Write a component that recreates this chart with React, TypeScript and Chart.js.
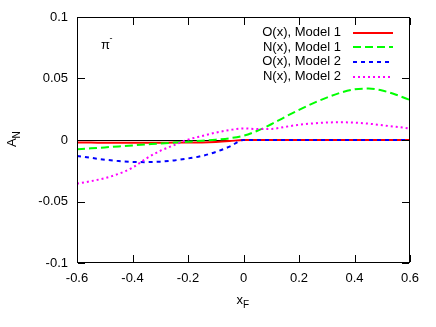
import React, { useEffect, useRef, useState } from "react";
import { Chart, registerables } from "chart.js";

Chart.register(...registerables);

const xValues = [
  -0.6, -0.55, -0.5, -0.45, -0.4, -0.35, -0.3, -0.25, -0.2, -0.15, -0.1, -0.05,
  0, 0.05, 0.1, 0.15, 0.2, 0.25, 0.3, 0.35, 0.4, 0.45, 0.5, 0.55, 0.6,
];

const oModel1 = [
  -0.0021, -0.0021, -0.0022, -0.0022, -0.0022, -0.0022, -0.0022, -0.0021, -0.0021, -0.002, -0.0016, -0.0009,
  0, 0, 0, 0, 0, 0, 0, 0, 0, 0, 0, 0, 0,
];

const nModel1 = [
  -0.0075, -0.0068, -0.006, -0.0052, -0.0044, -0.0036, -0.0028, -0.0021, -0.0014, -0.0006, 0.0003, 0.0014,
  0.0035, 0.0075, 0.0128, 0.0188, 0.0245, 0.0298, 0.0345, 0.0385, 0.0412, 0.0418, 0.0402, 0.0368, 0.0325,
];

const oModel2 = [
  -0.013, -0.0145, -0.016, -0.0171, -0.0178, -0.018, -0.0176, -0.0166, -0.015, -0.013, -0.0097, -0.0054,
  0, 0, 0, 0, 0, 0, 0, 0, 0, 0, 0, 0, 0,
];

const nModel2 = [
  -0.0355, -0.0335, -0.031, -0.0275, -0.0225, -0.015, -0.0088, -0.0042, 0.0003, 0.0032, 0.006, 0.0081,
  0.0094, 0.0089, 0.009, 0.0107, 0.0124, 0.0135, 0.0142, 0.0144, 0.0141, 0.0133, 0.012, 0.0107, 0.0094,
];

const seriesLabels = ["O(x), Model 1", "N(x), Model 1", "O(x), Model 2", "N(x), Model 2"];

const xTicks = [-0.6, -0.4, -0.2, 0, 0.2, 0.4, 0.6];
const xTickLabels = ["-0.6", "-0.4", "-0.2", "0", "0.2", "0.4", "0.6"];
const yTicks = [-0.1, -0.05, 0, 0.05, 0.1];
const yTickLabels = ["-0.1", "-0.05", "0", "0.05", "0.1"];

const FONT = "'Liberation Sans', Arial, sans-serif";

// plot box (gnuplot frame) in page pixels
const PAD_TOP = 17;
const PAD_RIGHT = 26;
const Y_AXIS_W = 77;
const X_AXIS_H = 64;
const W = 436;
const H = 327;

type Geom = { l: number; t: number; r: number; b: number; xs: number[]; ys: number[] };

const framePlugin = {
  id: "gnuplotFrame",
  beforeDatasetsDraw(c: any) {
    const ctx = c.ctx;
    const y0 = Math.round(c.scales.y.getPixelForValue(0));
    ctx.save();
    ctx.fillStyle = "#000";
    ctx.fillRect(c.chartArea.left, y0, c.chartArea.width, 1);
    ctx.restore();
  },
  afterDraw(c: any) {
    const ctx = c.ctx;
    const ca = c.chartArea;
    ctx.save();
    ctx.setLineDash([]);
    ctx.fillStyle = "#000";
    const tl = 7;
    xTicks.forEach((v) => {
      const px = Math.round(c.scales.x.getPixelForValue(v));
      ctx.fillRect(px, ca.bottom - 1 - tl, 1, tl);
      ctx.fillRect(px, ca.top + 1, 1, tl);
    });
    yTicks.forEach((v) => {
      const py = Math.round(c.scales.y.getPixelForValue(v));
      ctx.fillRect(ca.left + 1, py, tl, 1);
      ctx.fillRect(ca.right - 1 - tl, py, tl, 1);
    });

    const ds = c.data.datasets;
    ctx.font = `13px ${FONT}`;
    ctx.textAlign = "right";
    ctx.textBaseline = "middle";
    ds.forEach((d: any, i: number) => {
      const yy = 32.5 + i * 14.7;
      ctx.fillStyle = "#000";
      ctx.fillText(d.label, 341, yy);
      ctx.save();
      ctx.strokeStyle = d.borderColor;
      ctx.lineWidth = d.borderWidth;
      ctx.setLineDash(d.borderDash || []);
      ctx.beginPath();
      ctx.moveTo(353, Math.round(yy));
      ctx.lineTo(393, Math.round(yy));
      ctx.stroke();
      ctx.restore();
    });

    ctx.fillStyle = "#000";
    ctx.textAlign = "left";
    ctx.textBaseline = "alphabetic";
    ctx.font = `13px ${FONT}`;
    ctx.fillText("π", 101, 49);
    ctx.font = `9px ${FONT}`;
    ctx.fillText("-", 109.5, 41);

    ctx.font = `13px ${FONT}`;
    ctx.fillText("x", 236.5, 303.5);
    ctx.font = `10px ${FONT}`;
    ctx.fillText("F", 243, 307.5);

    ctx.translate(16, 147);
    ctx.rotate(-Math.PI / 2);
    ctx.font = `13px ${FONT}`;
    ctx.fillText("A", 0, 0);
    ctx.font = `10px ${FONT}`;
    ctx.fillText("N", 8.5, 4);
    ctx.restore();
  },
};

export default function App() {
  const ref = useRef<HTMLCanvasElement | null>(null);
  const [geom, setGeom] = useState<Geom | null>(null);
  useEffect(() => {
    document.body.style.margin = "0";
    const canvas = ref.current;
    if (!canvas) return;
    const mk = (vals: number[]) => xValues.map((x, i) => ({ x, y: vals[i] }));
    const chart = new Chart(canvas, {
      type: "line",
      data: {
        datasets: [
          { label: seriesLabels[0], data: mk(oModel1), borderColor: "#ff0000", borderWidth: 2, pointRadius: 0, cubicInterpolationMode: "monotone", order: 4 },
          { label: seriesLabels[1], data: mk(nModel1), borderColor: "#00ff00", borderWidth: 2, borderDash: [8, 4], pointRadius: 0, cubicInterpolationMode: "monotone", order: 3 },
          { label: seriesLabels[2], data: mk(oModel2), borderColor: "#0000ff", borderWidth: 2, borderDash: [4, 4], pointRadius: 0, cubicInterpolationMode: "monotone", order: 2 },
          { label: seriesLabels[3], data: mk(nModel2), borderColor: "#ff00ff", borderWidth: 2, borderDash: [2, 3], pointRadius: 0, cubicInterpolationMode: "monotone", order: 1 },
        ] as any,
      },
      options: {
        animation: false,
        responsive: false,
        layout: { padding: { left: 0, top: PAD_TOP, right: PAD_RIGHT, bottom: 0 } },
        plugins: { legend: { display: false }, tooltip: { enabled: false } },
        scales: {
          x: {
            type: "linear",
            min: -0.6,
            max: 0.6,
            grid: { display: false, drawTicks: false },
            border: { display: false },
            afterBuildTicks: (s: any) => {
              s.ticks = xTicks.map((v) => ({ value: v }));
            },
            afterFit: (s: any) => {
              s.height = X_AXIS_H;
            },
            ticks: {
              padding: 8,
              color: "#000",
              font: { family: FONT, size: 13 },
              maxRotation: 0,
              callback: (v: any) => xTickLabels[xTicks.findIndex((t) => Math.abs(t - v) < 1e-9)] ?? "",
            },
          },
          y: {
            type: "linear",
            min: -0.1,
            max: 0.1,
            grid: { display: false, drawTicks: false },
            border: { display: false },
            afterBuildTicks: (s: any) => {
              s.ticks = yTicks.map((v) => ({ value: v }));
            },
            afterFit: (s: any) => {
              s.width = Y_AXIS_W;
            },
            ticks: {
              padding: 9,
              color: "#000",
              font: { family: FONT, size: 13 },
              callback: (v: any) => yTickLabels[yTicks.findIndex((t) => Math.abs(t - v) < 1e-9)] ?? "",
            },
          },
        },
      },
      plugins: [framePlugin],
    });
    const ca = chart.chartArea;
    setGeom({
      l: Math.round(ca.left),
      t: Math.round(ca.top),
      r: Math.round(ca.right),
      b: Math.round(ca.bottom),
      xs: xTicks.map((v) => Math.round(chart.scales.x.getPixelForValue(v))),
      ys: yTicks.map((v) => Math.round(chart.scales.y.getPixelForValue(v))),
    });
    return () => chart.destroy();
  }, []);
  const tl = 7;
  return (
    <div style={{ width: W, height: H, position: "relative", overflow: "hidden" }}>
      <canvas ref={ref} width={W} height={H} style={{ display: "block" }} />
      <div
        style={{
          position: "absolute",
          left: Y_AXIS_W,
          top: PAD_TOP,
          width: W - PAD_RIGHT - Y_AXIS_W,
          height: H - X_AXIS_H - PAD_TOP,
          boxSizing: "border-box",
          border: "1px solid #000",
          pointerEvents: "none",
        }}
      />
      {geom && (
        <svg
          width={W}
          height={H}
          style={{ position: "absolute", left: 0, top: 0, pointerEvents: "none" }}
          shapeRendering="crispEdges"
        >
          {geom.xs.map((px, i) => (
            <g key={"x" + i}>
              <rect x={px} y={geom.b - 1 - tl} width={1} height={tl} fill="#000" />
              <rect x={px} y={geom.t + 1} width={1} height={tl} fill="#000" />
            </g>
          ))}
          {geom.ys.map((py, i) => (
            <g key={"y" + i}>
              <rect x={geom.l + 1} y={py} width={tl} height={1} fill="#000" />
              <rect x={geom.r - 1 - tl} y={py} width={tl} height={1} fill="#000" />
            </g>
          ))}
        </svg>
      )}
    </div>
  );
}
